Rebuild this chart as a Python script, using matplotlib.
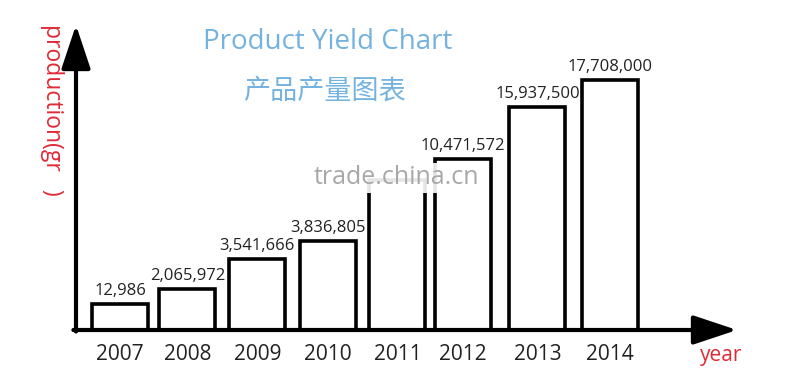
import matplotlib
matplotlib.use("Agg")
import matplotlib.pyplot as plt

plt.rcParams['font.family'] = ['Open Sans', 'Noto Sans CJK SC', 'DejaVu Sans']

# data
years = ['2007', '2008', '2009', '2010', '2011', '2012', '2013', '2014']
value_labels = ['12,986', '2,065,972', '3,541,666', '3,836,805', '',
                '10,471,572', '15,937,500', '17,708,000']
# drawn heights (the picture is not to scale)
bar_heights = [26, 41, 71, 89, 150, 171, 223, 250]

W, H = 800, 382
fig = plt.figure(figsize=(8, 3.82), dpi=100)
# axes box: x from 76px to 737px, baseline at 330px, top at 25px
ax = fig.add_axes([76 / W, 1 - 330 / H, (737 - 76) / W, (330 - 25) / H])

xs = [0, 0.96, 1.96, 2.97, 3.96, 4.9, 5.96, 7.0]
ax.bar(xs, bar_heights, width=0.8, color='white', edgecolor='black', linewidth=2.6, zorder=2)

for x, h, lab in zip(xs, bar_heights, value_labels):
    ax.text(x, h + 5, lab, ha='center', va='bottom', fontsize=12, color='#222222')

ax.set_xlim(-0.63, 8.81)
ax.set_ylim(0, 305)

ax.set_xticks(xs)
ax.set_xticklabels(years, fontsize=15, color='#222222')
ax.tick_params(axis='x', length=0, pad=10)
ax.set_yticks([])
for s in ax.spines.values():
    s.set_visible(False)

# axis arrows
arr = dict(arrowstyle='-|>,head_length=27,head_width=9', mutation_scale=1,
           lw=3, color='black', shrinkA=0, shrinkB=0)
ax.annotate('', xy=(0, 1), xytext=(0, -0.005), xycoords='axes fraction', arrowprops=arr)
ax.annotate('', xy=(1, 0), xytext=(-0.004, 0), xycoords='axes fraction', arrowprops=arr)

# watermark over the 2011 bar top
ax.text(3.95, 152, 'trade.china.cn', ha='center', va='center', fontsize=18,
        color='#a8a8a8', zorder=5,
        bbox=dict(facecolor='white', edgecolor='none', alpha=0.9, pad=2))

# titles and axis names
blue = '#74b3df'
fig.text(328 / W, 1 - 42 / H, 'Product Yield Chart', ha='center', va='center',
         fontsize=20, color=blue)
fig.text(324 / W, 1 - 92 / H, '产品产量图表', ha='center', va='center',
         fontsize=19.5, color=blue)
fig.text(52 / W, 1 - 24 / H, 'production(gr   )', ha='center', va='top',
         rotation=-90, fontsize=16.5, color='#e02a36')
fig.text(721 / W, 1 - 355 / H, 'year', ha='center', va='center',
         fontsize=15, color='#e02a36')

fig.savefig('out.png', dpi=100, facecolor='white')
